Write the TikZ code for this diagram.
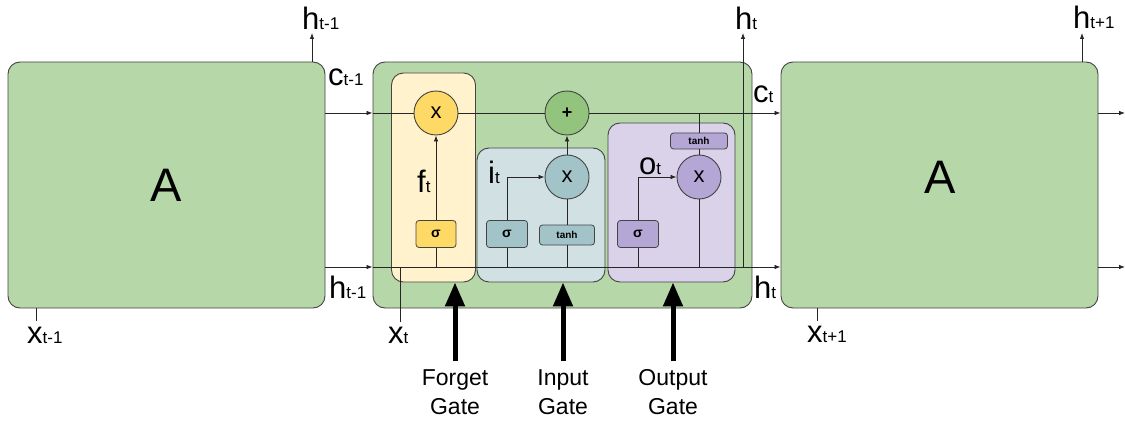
\documentclass[tikz,border=0pt]{standalone}
\usepackage{fontspec}
\setmainfont{Liberation Sans}
\usepackage{xcolor}
\usetikzlibrary{arrows.meta,positioning,calc}
\definecolor{cellgreen}{HTML}{B6D7A8}
\definecolor{plusgreen}{HTML}{93C47D}
\definecolor{forgetbg}{HTML}{FFF2CC}
\definecolor{forgetop}{HTML}{FFD966}
\definecolor{inputbg}{HTML}{D0E0E3}
\definecolor{inputop}{HTML}{A2C4C9}
\definecolor{outputbg}{HTML}{D9D2E9}
\definecolor{outputop}{HTML}{B4A7D6}
\definecolor{edgegray}{HTML}{444444}
\newcommand{\vlbl}[2]{{\fontsize{31}{31}\selectfont #1}{\fontsize{17}{17}\selectfont #2}}
\tikzset{
  cellbox/.style={
    draw=edgegray,
    fill=cellgreen,
    rounded corners=12pt,
    line width=0.9pt,
    inner sep=0pt
  },
  gatebox/.style={draw=edgegray, rounded corners=12pt, line width=0.9pt, inner sep=0pt},
  opnode/.style={circle, draw=edgegray, line width=0.9pt, minimum size=44pt, inner sep=0pt, font=\fontsize{22}{22}\selectfont},
  actbox/.style={draw=edgegray, rounded corners=3pt, line width=0.8pt, inner sep=0pt, minimum height=27pt, font=\fontsize{14}{14}\selectfont\bfseries},
  tanhbox/.style={actbox, font=\fontsize{10}{10}\selectfont\bfseries},
  varlbl/.style={anchor=base west, inner sep=0pt},
  gatelbl/.style={align=center, inner sep=0pt, anchor=north, font=\fontsize{23}{29}\selectfont},
  wire/.style={line width=0.8pt, draw=black!85},
  flow/.style={wire, -{Latex[length=6pt,width=4.5pt]}},
  gatearrow/.style={-{Triangle[length=24pt,width=19pt]}, line width=5pt, shorten <=8pt}
}
\begin{document}
\begin{tikzpicture}[x=1pt, y=-1pt]
\useasboundingbox (0,0) rectangle (1125,425);
% rows of the cell state and the hidden state
\coordinate (crow) at (0,113);
\coordinate (hrow) at (0,267);
\coordinate (edge) at (1125,0);

% the three copies of the cell
\node[cellbox, minimum width=317pt, minimum height=246pt] (prevA) at (166.5,185) {};
\node[cellbox, minimum width=379pt, minimum height=246pt] (cell) at (562.5,185) {};
\node[cellbox, minimum width=317pt, minimum height=246pt] (nextA) at (939.5,185) {};
\node[font=\fontsize{47}{47}\selectfont] (prevAlbl) at (166,185) {A};
\node[font=\fontsize{47}{47}\selectfont] (nextAlbl) at (940,177) {A};

% gates
\node[gatebox, fill=forgetbg, minimum width=84pt, minimum height=209pt] (forget) at (433.5,177.5) {};
\node[gatebox, fill=inputbg, minimum width=128pt, minimum height=134pt] (input) at (541,215) {};
\node[gatebox, fill=outputbg, minimum width=127pt, minimum height=159pt] (output) at (671.5,202.5) {};

\node[opnode, fill=forgetop] (fmul) at (436,113) {x};
\node[opnode, fill=plusgreen, font=\fontsize{18}{18}\selectfont\bfseries] (cadd) at (567,113) {+};
\node[opnode, fill=inputop] (imul) at (567,177) {x};
\node[opnode, fill=outputop] (omul) at (699,177) {x};

\node[actbox, fill=forgetop, minimum width=40pt] (fsig) at (436,234) {σ};
\node[actbox, fill=inputop, minimum width=41pt] (isig) at (507,234) {σ};
\node[tanhbox, fill=inputop, minimum width=55pt, minimum height=20pt] (itanh) at (567,235) {tanh};
\node[actbox, fill=outputop, minimum width=41pt] (osig) at (638,234) {σ};
\node[tanhbox, fill=outputop, minimum width=57pt, minimum height=16pt] (otanh) at (699,141) {tanh};

% cell state and hidden state
\draw[flow] (prevA.east |- crow) -- (cell.west |- crow);
\draw[flow] (prevA.east |- hrow) -- (cell.west |- hrow);
\draw[wire] (cell.west |- crow) -- (fmul);
\draw[wire] (fmul) -- (cadd);
\draw[flow] (cadd) -- (nextA.west |- crow);
\draw[flow] (cell.west |- hrow) -- (nextA.west |- hrow);
\draw[flow] (nextA.east |- crow) -- (edge |- crow);
\draw[flow] (nextA.east |- hrow) -- (edge |- hrow);

% forget gate
\draw[wire] (fsig |- hrow) -- (fsig);
\draw[flow] (fsig) -- (fmul);
% input gate
\draw[wire] (isig |- hrow) -- (isig);
\draw[flow] (isig.north) |- (imul.west);
\draw[wire] (itanh |- hrow) -- (itanh);
\draw[wire] (itanh) -- (imul);
\draw[flow] (imul) -- (cadd);
% output gate
\draw[wire] (osig |- hrow) -- (osig);
\draw[flow] (osig.north) |- (omul.west);
\draw[wire] (otanh |- crow) -- (otanh);
\draw[wire] (otanh) -- (omul);
\draw[wire] (omul) -- (omul |- hrow);

% outputs and inputs
\coordinate (hprevtop) at (312,33);
\coordinate (hcurtop) at (743,33);
\coordinate (hnexttop) at (1082,33);
\coordinate (xprev) at (36,321);
\coordinate (xcur) at (400,322);
\coordinate (xnext) at (817,321);
\draw[flow] (prevA.north -| hprevtop) -- (hprevtop);
\draw[flow] (hcurtop |- hrow) -- (hcurtop);
\draw[flow] (nextA.north -| hnexttop) -- (hnexttop);
\draw[wire] (prevA.south -| xprev) -- (xprev);
\draw[wire] (xcur |- hrow) -- (xcur);
\draw[wire] (nextA.south -| xnext) -- (xnext);

\node[varlbl] (hprevlbl) at (302,30) {\vlbl{h}{t-1}};
\node[varlbl] (cprevlbl) at (328,86) {\vlbl{c}{t-1}};
\node[varlbl] (hprevlbl2) at (329,298) {\vlbl{h}{t-1}};
\node[varlbl] (xprevlbl) at (27,343) {\vlbl{x}{t-1}};
\node[varlbl] (hcurlbl) at (735,30) {\vlbl{h}{t}};
\node[varlbl] (ccurlbl) at (753,103) {\vlbl{c}{t}};
\node[varlbl] (hcurlbl2) at (754,298) {\vlbl{h}{t}};
\node[varlbl] (xcurlbl) at (388,343) {\vlbl{x}{t}};
\node[varlbl] (hnextlbl) at (1073,29) {\vlbl{h}{t+1}};
\node[varlbl] (xnextlbl) at (807,342) {\vlbl{x}{t+1}};
\node[varlbl] (ftlbl) at (417,193) {\vlbl{f}{t}};
\node[varlbl] (itlbl) at (488,183) {\vlbl{i}{t}};
\node[varlbl] (otlbl) at (639,175) {\vlbl{o}{t}};

% gate captions
\node[gatelbl] (fglbl) at (455,369) {Forget\\Gate};
\node[gatelbl] (iglbl) at (563,369) {Input\\Gate};
\node[gatelbl] (oglbl) at (673,369) {Output\\Gate};
\draw[gatearrow] (fglbl.north) -- (forget.south -| fglbl.north);
\draw[gatearrow] (iglbl.north) -- (input.south -| iglbl.north);
\draw[gatearrow] (oglbl.north) -- (output.south -| oglbl.north);
\end{tikzpicture}
\end{document}
